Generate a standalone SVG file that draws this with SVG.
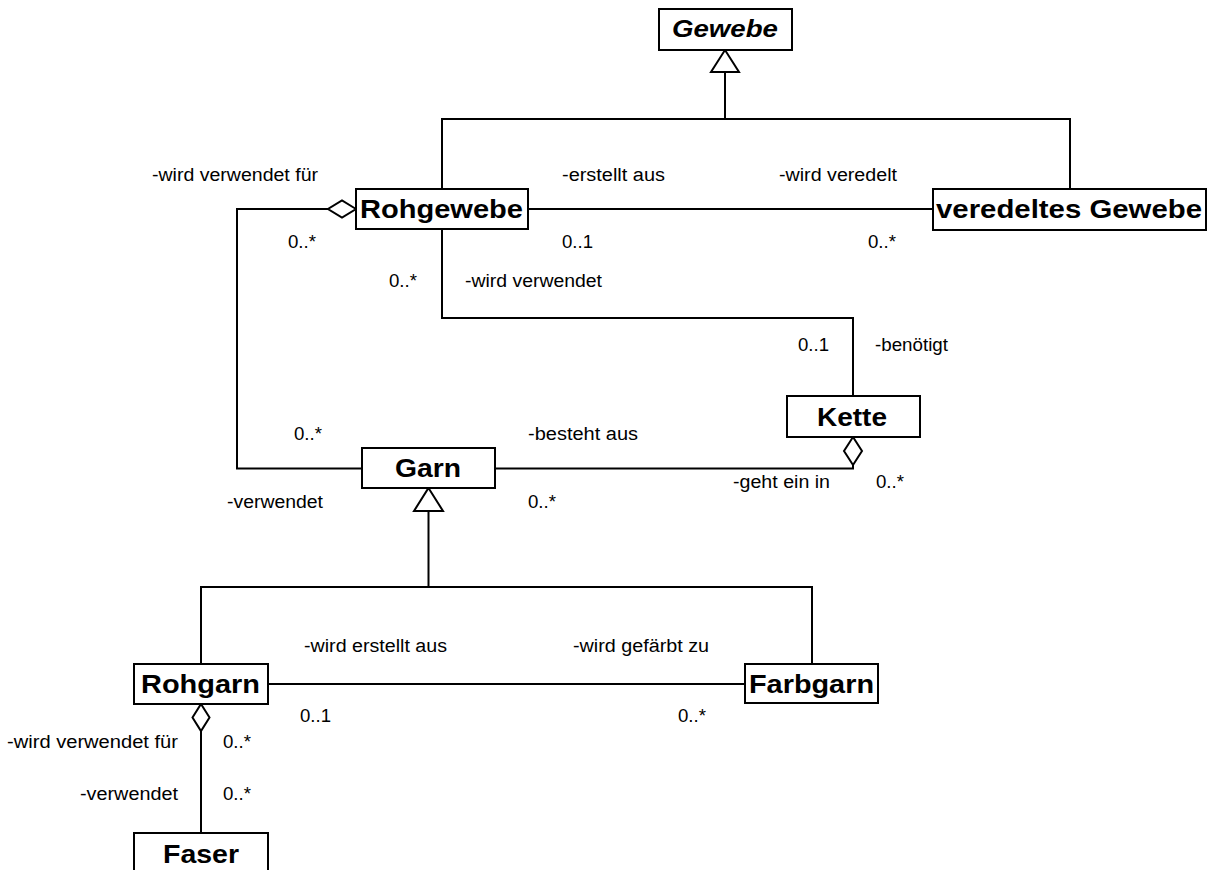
<svg xmlns="http://www.w3.org/2000/svg" width="1210" height="870" viewBox="0 0 1210 870">
  <style>
    .box { fill: #ffffff; stroke: #000000; stroke-width: 2; }
    .title { font-family: "Liberation Sans", Arial, sans-serif; font-weight: bold; font-size: 26px; fill: #000000; }
    .abstract { font-style: italic; font-size: 23px; }
    .lbl { font-family: "Liberation Sans", Arial, sans-serif; font-size: 18px; fill: #000000; }
    .edge { fill: none; stroke: #000000; stroke-width: 2; }
    .gen { fill: #ffffff; stroke: #000000; stroke-width: 2; }
    .agg { fill: #ffffff; stroke: #000000; stroke-width: 2; }
  </style>
  <rect width="1210" height="870" fill="#ffffff"/>

  <!-- connectors -->
  <g id="connectors">
    <!-- generalization: Rohgewebe / veredeltes Gewebe -> Gewebe -->
    <polyline class="edge" points="725,72 725,119"/>
    <polyline class="edge" points="442,189 442,119 1070,119 1070,189"/>
    <polygon class="gen" points="725,50 739,72 711,72"/>

    <!-- Rohgewebe - veredeltes Gewebe -->
    <line class="edge" x1="528" y1="209" x2="933" y2="209"/>

    <!-- Rohgewebe (aggregation) - Garn -->
    <polyline class="edge" points="328,209 237,209 237,468.5 362,468.5"/>
    <polygon class="agg" points="356,209 342,200.5 328,209 342,217.5"/>

    <!-- Rohgewebe - Kette -->
    <polyline class="edge" points="442,229 442,318 853,318 853,396"/>

    <!-- Garn - Kette (aggregation) -->
    <polyline class="edge" points="853,465 853,468.5 495,468.5"/>
    <polygon class="agg" points="853,437 862,451 853,465 844,451"/>

    <!-- generalization: Rohgarn / Farbgarn -> Garn -->
    <polyline class="edge" points="428.5,511 428.5,587"/>
    <polyline class="edge" points="201,664 201,587 812,587 812,664"/>
    <polygon class="gen" points="428.5,488 443,511 414,511"/>

    <!-- Rohgarn - Farbgarn -->
    <line class="edge" x1="268" y1="684" x2="745" y2="684"/>

    <!-- Rohgarn (aggregation) - Faser -->
    <line class="edge" x1="201" y1="731" x2="201" y2="833"/>
    <polygon class="agg" points="201,704 209.5,717.5 201,731 192.5,717.5"/>
  </g>

  <!-- role names and multiplicities -->
  <g id="labels">
    <text class="lbl" x="152" y="181" textLength="166" lengthAdjust="spacingAndGlyphs">-wird verwendet für</text>
    <text class="lbl" x="562" y="181" textLength="103" lengthAdjust="spacingAndGlyphs">-erstellt aus</text>
    <text class="lbl" x="779" y="181" textLength="118" lengthAdjust="spacingAndGlyphs">-wird veredelt</text>
    <text class="lbl" x="288" y="248" textLength="28" lengthAdjust="spacingAndGlyphs">0..*</text>
    <text class="lbl" x="562" y="248" textLength="31" lengthAdjust="spacingAndGlyphs">0..1</text>
    <text class="lbl" x="868" y="248" textLength="28" lengthAdjust="spacingAndGlyphs">0..*</text>
    <text class="lbl" x="389" y="287" textLength="28" lengthAdjust="spacingAndGlyphs">0..*</text>
    <text class="lbl" x="465" y="287" textLength="137" lengthAdjust="spacingAndGlyphs">-wird verwendet</text>
    <text class="lbl" x="798" y="351" textLength="31" lengthAdjust="spacingAndGlyphs">0..1</text>
    <text class="lbl" x="875" y="351" textLength="73" lengthAdjust="spacingAndGlyphs">-benötigt</text>
    <text class="lbl" x="294" y="440" textLength="28" lengthAdjust="spacingAndGlyphs">0..*</text>
    <text class="lbl" x="528" y="440" textLength="110" lengthAdjust="spacingAndGlyphs">-besteht aus</text>
    <text class="lbl" x="733" y="488" textLength="97" lengthAdjust="spacingAndGlyphs">-geht ein in</text>
    <text class="lbl" x="876" y="488" textLength="28" lengthAdjust="spacingAndGlyphs">0..*</text>
    <text class="lbl" x="227" y="508" textLength="96" lengthAdjust="spacingAndGlyphs">-verwendet</text>
    <text class="lbl" x="528" y="508" textLength="28" lengthAdjust="spacingAndGlyphs">0..*</text>
    <text class="lbl" x="304" y="652" textLength="143" lengthAdjust="spacingAndGlyphs">-wird erstellt aus</text>
    <text class="lbl" x="573" y="652" textLength="136" lengthAdjust="spacingAndGlyphs">-wird gefärbt zu</text>
    <text class="lbl" x="300" y="722" textLength="31" lengthAdjust="spacingAndGlyphs">0..1</text>
    <text class="lbl" x="678" y="722" textLength="28" lengthAdjust="spacingAndGlyphs">0..*</text>
    <text class="lbl" x="7" y="748" textLength="171" lengthAdjust="spacingAndGlyphs">-wird verwendet für</text>
    <text class="lbl" x="223" y="748" textLength="28" lengthAdjust="spacingAndGlyphs">0..*</text>
    <text class="lbl" x="80" y="800" textLength="98" lengthAdjust="spacingAndGlyphs">-verwendet</text>
    <text class="lbl" x="223" y="800" textLength="28" lengthAdjust="spacingAndGlyphs">0..*</text>
  </g>

  <!-- classes -->
  <g id="gewebe">
    <rect class="box" x="659" y="9" width="133" height="41"/>
    <text class="title abstract" x="672" y="37" textLength="106" lengthAdjust="spacingAndGlyphs">Gewebe</text>
  </g>
  <g id="rohgewebe">
    <rect class="box" x="356" y="189" width="172" height="40"/>
    <text class="title" x="360" y="218" textLength="163" lengthAdjust="spacingAndGlyphs">Rohgewebe</text>
  </g>
  <g id="veredeltes-gewebe">
    <rect class="box" x="933" y="189" width="273" height="41"/>
    <text class="title" x="936" y="218" textLength="266" lengthAdjust="spacingAndGlyphs">veredeltes Gewebe</text>
  </g>
  <g id="kette">
    <rect class="box" x="787" y="396" width="133" height="41"/>
    <text class="title" x="817" y="426" textLength="70" lengthAdjust="spacingAndGlyphs">Kette</text>
  </g>
  <g id="garn">
    <rect class="box" x="362" y="448" width="133" height="40"/>
    <text class="title" x="395" y="477" textLength="66" lengthAdjust="spacingAndGlyphs">Garn</text>
  </g>
  <g id="rohgarn">
    <rect class="box" x="134" y="664" width="134" height="40"/>
    <text class="title" x="141" y="693" textLength="119" lengthAdjust="spacingAndGlyphs">Rohgarn</text>
  </g>
  <g id="farbgarn">
    <rect class="box" x="745" y="664" width="133" height="39"/>
    <text class="title" x="749" y="693" textLength="125" lengthAdjust="spacingAndGlyphs">Farbgarn</text>
  </g>
  <g id="faser">
    <rect class="box" x="134" y="833" width="134" height="50"/>
    <text class="title" x="163" y="863" textLength="76" lengthAdjust="spacingAndGlyphs">Faser</text>
  </g>
</svg>
